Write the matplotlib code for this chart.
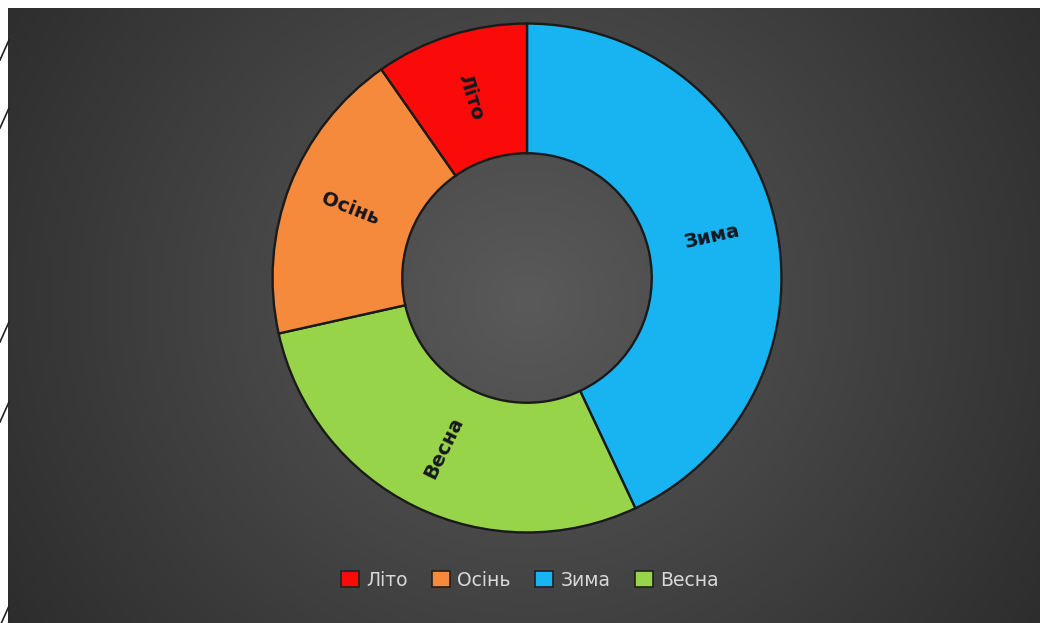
import numpy as np
import matplotlib
matplotlib.use("Agg")
import matplotlib.pyplot as plt
from matplotlib.patches import Patch
from matplotlib.lines import Line2D

# Season shares, in the order they run clockwise from 12 o'clock
seasons = ["Зима", "Весна", "Осінь", "Літо"]
shares = [43.0, 28.5, 18.8, 9.7]
colors = {"Літо": "#fb0a0a", "Осінь": "#f5893c", "Зима": "#17b4f1", "Весна": "#97d44a"}
legend_order = ["Літо", "Осінь", "Зима", "Весна"]

W, H = 1040, 623
fig = plt.figure(figsize=(W / 100, H / 100), dpi=100, facecolor="white")

# dark panel with a soft radial gradient
bg = fig.add_axes([8 / W, 0, 1 - 8 / W, (H - 8) / H])
bg.set_axis_off()
ny, nx = 300, 500
yy, xx = np.mgrid[0:ny, 0:nx]
cx, cy = (527 - 8) / (W - 8) * nx, (300 - 8) / (H - 8) * ny
d = np.sqrt(((xx - cx) / nx) ** 2 + ((yy - cy) / ny * 0.62) ** 2)
d = np.clip(d / 0.62, 0, 1)
grey = 0x5a / 255 * (1 - d) + 0x2b / 255 * d
bg.imshow(np.dstack([grey, grey, grey]), aspect="auto", extent=[0, 1, 0, 1],
          origin="upper", interpolation="bicubic")
bg.set_xlim(0, 1)
bg.set_ylim(0, 1)

# small slash marks along the left edge
for y0 in [40, 108, 322, 402, 606]:
    fig.add_artist(Line2D([0 / W, 9 / W], [1 - (y0 + 20) / H, 1 - y0 / H],
                          color="#222222", lw=1.2, transform=fig.transFigure))

# doughnut
R = 257
cxp, cyp = 527, 278
ax = fig.add_axes([(cxp - R) / W, (H - cyp - R) / H, 2 * R / W, 2 * R / H])
ax.set_axis_off()
ax.patch.set_alpha(0)
inner = 126 / R
wedges, _ = ax.pie(shares, colors=[colors[s] for s in seasons], startangle=90,
                   counterclock=False, radius=1.0,
                   wedgeprops=dict(width=1 - inner, edgecolor="#1a1a1a", linewidth=1.7))
ax.set_xlim(-1.01, 1.01)
ax.set_ylim(-1.01, 1.01)

r_lab = (1 + inner) / 2
for w, name in zip(wedges, seasons):
    mid = (w.theta1 + w.theta2) / 2
    rad = np.deg2rad(mid)
    rot = ((mid + 90) % 180) - 90
    ax.text(r_lab * np.cos(rad), r_lab * np.sin(rad), name, rotation=rot,
            rotation_mode="anchor", ha="center", va="center",
            fontsize=14, fontweight="bold", color="#16161e", family="DejaVu Sans")

handles = [Patch(facecolor=colors[s], edgecolor="#202020", linewidth=1.2) for s in legend_order]
leg = fig.legend(handles, legend_order, loc="center", bbox_to_anchor=(530 / W, 1 - 580 / H),
                 ncol=4, frameon=False, fontsize=13.5, handlelength=0.95, handleheight=0.95,
                 handletextpad=0.4, columnspacing=1.3, labelcolor="#d9d9d9")

fig.savefig("out.png", dpi=100, facecolor=fig.get_facecolor())
